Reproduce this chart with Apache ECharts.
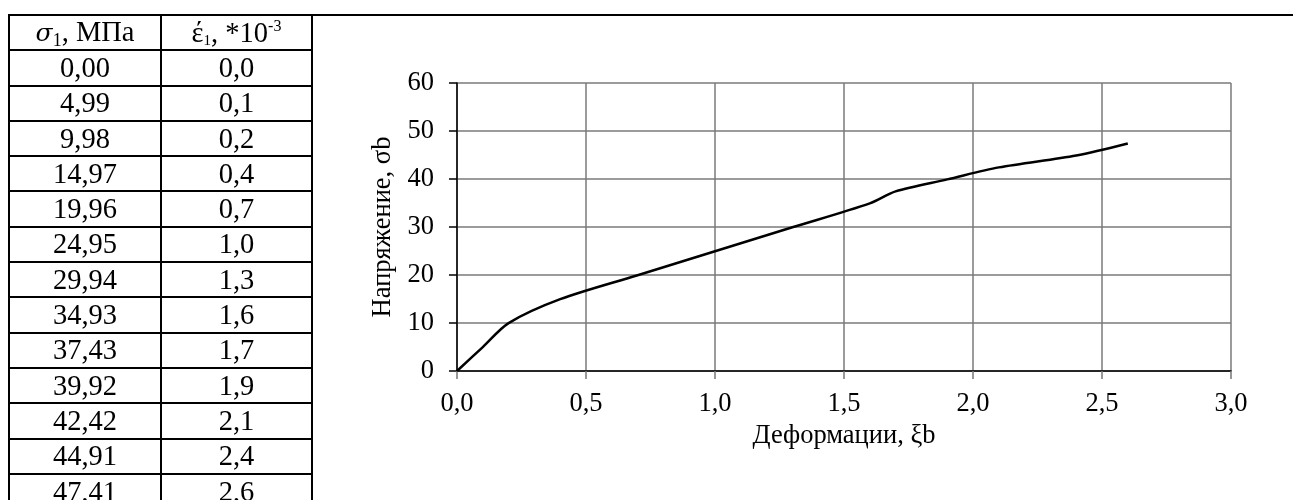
<!DOCTYPE html>
<html>
<head>
<meta charset="utf-8">
<script src="https://cdn.jsdelivr.net/npm/echarts@6/dist/echarts.min.js"></script>
<style>
html, body { margin: 0; padding: 0; background: #fff; }
#wrap { position: relative; width: 1293px; height: 500px; overflow: hidden; }
#chart { position: absolute; left: 0; top: 0; width: 1293px; height: 500px; }
#topline { position: absolute; left: 8px; top: 14px; width: 1285px; height: 2px; background: #000; }
#tbl { position: absolute; left: 8px; top: 14px; border-collapse: collapse;
  font-family: "Liberation Serif", "Times New Roman", serif; font-size: 28.5px; color: #000; }
#tbl td { border: 2px solid #000; text-align: center; padding: 0; height: 33.3px; line-height: 32px; }
#tbl td.c1 { width: 150px; }
#tbl td.c2 { width: 149px; }
.m { font-style: italic; font-family: "DejaVu Serif", serif; font-size: 25px; }
sub.s { font-size: 18px; vertical-align: -5px; line-height: 0; }
sub.t { font-size: 15px; vertical-align: -3px; line-height: 0; }
sup.p { font-size: 16px; vertical-align: 11px; line-height: 0; }
</style>
</head>
<body>
<div id="wrap">
  <div id="chart"></div>
  <div id="topline"></div>
  <table id="tbl"></table>
</div>
<script>
// данные из таблицы: напряжение (МПа) и деформации (*10^-3)
var stress = [0.00, 4.99, 9.98, 14.97, 19.96, 24.95, 29.94, 34.93, 37.43, 39.92, 42.42, 44.91, 47.41];
var strain = [0.0, 0.1, 0.2, 0.4, 0.7, 1.0, 1.3, 1.6, 1.7, 1.9, 2.1, 2.4, 2.6];

function comma(v, d) { return v.toFixed(d).replace('.', ','); }

// таблица слева
var tbl = document.getElementById('tbl');
var html = '<tr><td class="c1"><span class="m">σ</span><sub class="s">1</sub>, МПа</td>' +
  '<td class="c2">έ<sub class="t">1</sub>, *10<sup class="p">-3</sup></td></tr>';
for (var i = 0; i < stress.length; i++) {
  html += '<tr><td class="c1">' + comma(stress[i], 2) + '</td><td class="c2">' + comma(strain[i], 1) + '</td></tr>';
}
tbl.innerHTML = html;

var points = [];
for (var k = 0; k < stress.length; k++) points.push([strain[k], stress[k]]);

var font = '"Liberation Serif", "Times New Roman", serif';
var fs = 26.5;
var myChart = echarts.init(document.getElementById('chart'));
myChart.setOption({
  backgroundColor: '#fff',
  animation: false,
  grid: { left: 457, top: 83, right: 62, bottom: 129 },
  xAxis: {
    type: 'value',
    min: 0, max: 3, interval: 0.5,
    name: 'Деформации, ξb',
    nameLocation: 'middle',
    nameGap: 52,
    nameTextStyle: { fontFamily: font, fontSize: fs, color: '#000' },
    axisLine: { show: true, onZero: false, lineStyle: { color: '#000', width: 1.5 } },
    axisTick: { show: true, inside: false, length: 8, lineStyle: { color: '#777', width: 1.5 } },
    axisLabel: { margin: 20, fontFamily: font, fontSize: fs, color: '#000',
      formatter: function (v) { return comma(v, 1); } },
    splitLine: { show: true, lineStyle: { color: '#7a7a7a', width: 1.5 } }
  },
  yAxis: {
    type: 'value',
    min: 0, max: 60, interval: 10,
    name: 'Напряжение, σb',
    nameLocation: 'middle',
    nameRotate: 90,
    nameGap: 52,
    nameTextStyle: { fontFamily: font, fontSize: fs, color: '#000' },
    axisLine: { show: true, lineStyle: { color: '#000', width: 1.5 } },
    axisTick: { show: true, inside: false, length: 8, lineStyle: { color: '#000', width: 1.5 } },
    axisLabel: { margin: 23, fontFamily: font, fontSize: fs, color: '#000' },
    splitLine: { show: true, lineStyle: { color: '#7a7a7a', width: 1.5 } }
  },
  series: [{
    type: 'line',
    data: points,
    smooth: 0.3,
    showSymbol: false,
    lineStyle: { color: '#000', width: 2.5 }
  }]
});
</script>
</body>
</html>
